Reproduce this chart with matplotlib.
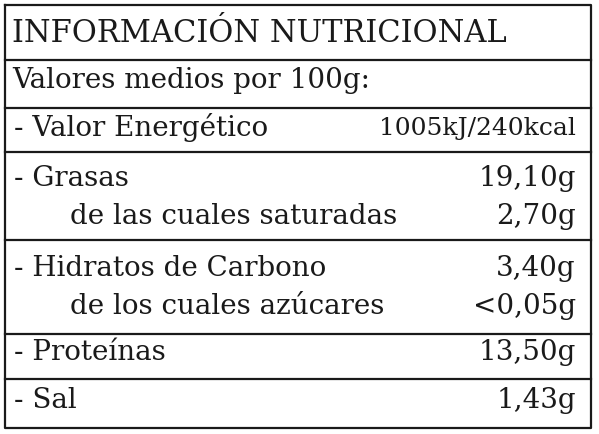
import matplotlib
matplotlib.use("Agg")
import matplotlib.pyplot as plt

title = "INFORMACIÓN NUTRICIONAL"
subtitle = "Valores medios por 100g:"
labels = ["- Valor Energético", "- Grasas", "de las cuales saturadas",
          "- Hidratos de Carbono", "de los cuales azúcares", "- Proteínas", "- Sal"]
values = ["1005kJ/240kcal", "19,10g", "2,70g", "3,40g", "<0,05g", "13,50g", "1,43g"]
indent = [False, False, True, False, True, False, False]
row_y = [128, 178, 216, 268, 306, 353, 401]
sep_y = [60, 108, 152, 240, 334, 379]

fig = plt.figure(figsize=(5.99, 4.34), dpi=100)
ax = fig.add_axes([0, 0, 1, 1])
ax.set_xlim(0, 599); ax.set_ylim(434, 0); ax.axis("off")
fam = ["DejaVu Serif"]
c = "#1a1a1a"
ax.plot([5, 591, 591, 5, 5], [5, 5, 428, 428, 5], color=c, lw=1.6)
for y in sep_y:
    ax.plot([5, 591], [y, y], color=c, lw=1.6)
ax.text(12, 34, title, family=fam, fontsize=22, va="center", color=c)
ax.text(12, 80, subtitle, family=fam, fontsize=20, va="center", color=c)
for lab, val, ind, y in zip(labels, values, indent, row_y):
    fs_v = 18 if lab.startswith("- Valor") else 20
    ax.text(70 if ind else 14, y, lab, family=fam, fontsize=20, va="center", color=c)
    ax.text(576, y, val, family=fam, fontsize=fs_v, va="center", ha="right", color=c)
fig.savefig("out.png", dpi=100)
